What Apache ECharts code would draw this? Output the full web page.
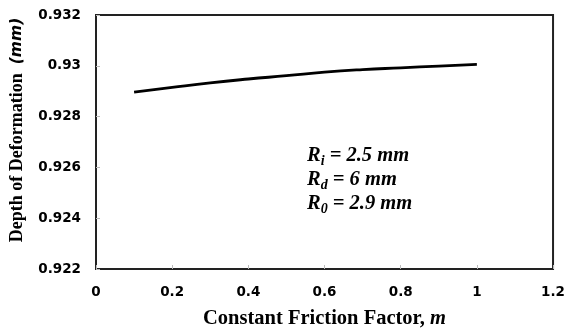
<!DOCTYPE html>
<html>
<head>
<meta charset="utf-8">
<script src="https://cdn.jsdelivr.net/npm/echarts@6/dist/echarts.min.js"></script>
<style>
  html, body { margin: 0; padding: 0; background: #fff; }
  #chart { width: 568px; height: 334px; }
</style>
</head>
<body>
<div id="chart"></div>
<script>
// constant friction factor m
const frictionM = [0.1, 0.2, 0.3, 0.4, 0.5, 0.6, 0.7, 0.8, 0.9, 1.0];
// depth of deformation (mm)
const depthMM = [0.92896, 0.92915, 0.92933, 0.92948, 0.92961, 0.92975, 0.92985, 0.92992, 0.92999, 0.93006];

const xTicks = { min: 0, max: 1.2, step: 0.2 };
const yTicks = { min: 0.922, max: 0.932, step: 0.002 };

const notes = [
    ['i', '2.5'],
    ['d', '6'],
    ['0', '2.9']
];

const serif = 'Liberation Serif';
const sans = 'DejaVu Sans';
const fmt = v => String(+v.toFixed(3));

const chart = echarts.init(document.getElementById('chart'));
chart.setOption({
    animation: false,
    grid: {
        left: 95,
        right: 11,
        top: 15,
        bottom: 64,
        show: true,
        borderColor: '#222',
        borderWidth: 2
    },
    xAxis: {
        type: 'value',
        min: xTicks.min,
        max: xTicks.max,
        interval: xTicks.step,
        name: 'Constant Friction Factor, {i|m}',
        nameLocation: 'middle',
        nameGap: 39,
        nameTextStyle: {
            fontFamily: serif,
            fontWeight: 'bold',
            fontSize: 20.5,
            color: '#000',
            rich: {
                i: { fontFamily: serif, fontWeight: 'bold', fontStyle: 'italic', fontSize: 20.5, color: '#000' }
            }
        },
        axisLine: { show: true, lineStyle: { color: '#222', width: 2 } },
        axisTick: { show: true, inside: true, length: 4, lineStyle: { color: '#bbb' } },
        splitLine: { show: false },
        axisLabel: {
            margin: 16,
            fontFamily: sans,
            fontWeight: 'bold',
            fontSize: 13.5,
            color: '#000',
            formatter: fmt
        }
    },
    yAxis: {
        type: 'value',
        min: yTicks.min,
        max: yTicks.max,
        interval: yTicks.step,
        name: 'Depth of Deformation  {i|(mm)}',
        nameLocation: 'middle',
        nameGap: 70,
        nameTextStyle: {
            fontFamily: serif,
            fontWeight: 'bold',
            fontSize: 18,
            color: '#000',
            padding: [0, 0, 0, 24],
            rich: {
                i: { fontFamily: sans, fontStyle: 'italic', fontSize: 15.5, color: '#000' }
            }
        },
        axisLine: { show: true, lineStyle: { color: '#222', width: 2 } },
        axisTick: { show: true, inside: true, length: 4, lineStyle: { color: '#bbb' } },
        splitLine: { show: false },
        axisLabel: {
            margin: 15,
            fontFamily: sans,
            fontWeight: 'bold',
            fontSize: 13.5,
            color: '#000',
            formatter: fmt
        }
    },
    graphic: [{
        type: 'text',
        left: 307,
        top: 145,
        style: {
            text: notes.map(n => '{r|R}{s|' + n[0] + '}{r| = ' + n[1] + ' mm}').join('\n'),
            rich: {
                r: { fontFamily: serif, fontWeight: 'bold', fontStyle: 'italic', fontSize: 20.5, lineHeight: 24, color: '#000' },
                s: { fontFamily: serif, fontWeight: 'bold', fontStyle: 'italic', fontSize: 14, lineHeight: 24, verticalAlign: 'bottom', padding: [9, 0, 0, 0], color: '#000' }
            }
        }
    }],
    series: [{
        type: 'line',
        data: frictionM.map((m, i) => [m, depthMM[i]]),
        smooth: true,
        showSymbol: false,
        lineStyle: { color: '#000', width: 2.8 }
    }]
});
</script>
</body>
</html>
